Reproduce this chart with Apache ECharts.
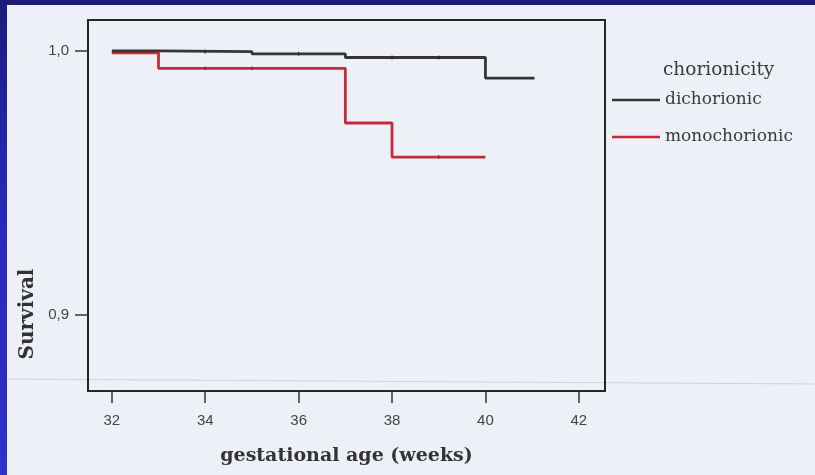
<!DOCTYPE html>
<html>
<head>
<meta charset="utf-8">
<script src="https://cdn.jsdelivr.net/npm/echarts@6/dist/echarts.min.js"></script>
<style>
  html, body { margin: 0; padding: 0; background: #eef0f7; }
  #wrap { position: relative; width: 815px; height: 475px; overflow: hidden; }
  #chart { position: absolute; left: 0; top: 0; width: 815px; height: 475px; }
  #edgeTop { position: absolute; left: 0; top: 0; width: 815px; height: 5px; background: #1b1b74; z-index: 2; }
  #edgeLeft { position: absolute; left: 0; top: 0; width: 7px; height: 475px; z-index: 2;
              background: linear-gradient(to bottom, #1b1b7a 0%, #2626b4 35%, #3030cc 100%); }
</style>
</head>
<body>
<div id="wrap">
  <div id="chart"></div>
  <div id="edgeTop"></div>
  <div id="edgeLeft"></div>
</div>
<script>
// Kaplan-Meier survival by chorionicity (gestational age in weeks)
const seriesNames = ['dichorionic', 'monochorionic'];

// step points: [week, cumulative survival]
const dichorionic = [[32, 1.0], [33, 0.9997], [35, 0.9989], [37, 0.9975], [40, 0.9897], [41.05, 0.9897]];
const monochorionic = [[32, 0.9993], [33, 0.9934], [37, 0.9727], [38, 0.9598], [40, 0.9598]];

// censored observations (small tick marks on the curves)
const dichorionicCensored = [[34, 0.9997], [36, 0.9989], [38, 0.9975], [39, 0.9975]];
const monochorionicCensored = [[34, 0.9934], [35, 0.9934], [39, 0.9598]];

const xTicks = [32, 34, 36, 38, 40, 42];
const yTicks = [0.9, 1.0];
const yTickLabels = ['0,9', '1,0'];

const legendTitle = 'chorionicity';
const xTitle = 'gestational age (weeks)';
const yTitle = 'Survival';

const colors = { dichorionic: '#353535', monochorionic: '#c62a36' };

const chart = echarts.init(document.getElementById('chart'), null, { renderer: 'canvas' });

const censorSeries = (name, data, color) => ({
  name: name,
  type: 'scatter',
  data: data,
  symbol: 'rect',
  symbolSize: [1.2, 4],
  itemStyle: { color: color, opacity: 0.8 },
  silent: true,
  z: 4
});

chart.setOption({
  backgroundColor: '#eef0f7',
  animation: false,
  title: {
    text: legendTitle,
    left: 663,
    top: 61,
    padding: 0,
    textStyle: { fontFamily: 'DejaVu Serif', fontSize: 18.5, fontWeight: 'normal', color: '#3a3a3a' }
  },
  legend: {
    data: seriesNames,
    orient: 'vertical',
    left: 612,
    top: 88,
    padding: 0,
    itemGap: 13,
    itemWidth: 48,
    itemHeight: 2.5,
    icon: 'rect',
    selectedMode: false,
    textStyle: { fontFamily: 'DejaVu Serif', fontSize: 17, color: '#3a3a3a', lineHeight: 20, padding: [4, 0, 0, 0] }
  },
  grid: {
    left: 88, top: 20, width: 517, height: 371,
    show: true, borderColor: '#262626', borderWidth: 2,
    backgroundColor: 'transparent',
    containLabel: false
  },
  xAxis: {
    type: 'value',
    min: 31.49,
    max: 42.56,
    name: xTitle,
    nameLocation: 'middle',
    nameGap: 56,
    nameTextStyle: { fontFamily: 'DejaVu Serif', fontSize: 19, fontWeight: 'bold', color: '#333' },
    axisLine: { show: true, lineStyle: { color: '#262626', width: 2 } },
    axisTick: { show: true, inside: false, length: 12, customValues: xTicks, lineStyle: { color: '#333', width: 1.5 } },
    axisLabel: { customValues: xTicks, margin: 22, fontFamily: 'Liberation Sans', fontSize: 15, color: '#444' },
    splitLine: { show: false }
  },
  yAxis: {
    type: 'value',
    min: 0.8712,
    max: 1.0117,
    axisLine: { show: true, lineStyle: { color: '#262626', width: 2 } },
    axisTick: { show: true, inside: false, length: 13, customValues: yTicks, lineStyle: { color: '#333', width: 1.5 } },
    axisLabel: {
      customValues: yTicks,
      margin: 19,
      fontFamily: 'Liberation Sans', fontSize: 15, color: '#444',
      formatter: (v) => yTickLabels[yTicks.findIndex(t => Math.abs(t - v) < 1e-6)]
    },
    splitLine: { show: false }
  },
  series: [
    {
      name: 'monochorionic',
      type: 'line',
      step: 'end',
      data: monochorionic,
      symbol: 'none',
      lineStyle: { color: colors.monochorionic, width: 2.8 },
      itemStyle: { color: colors.monochorionic },
      z: 2
    },
    {
      name: 'dichorionic',
      type: 'line',
      step: 'end',
      data: dichorionic,
      symbol: 'none',
      lineStyle: { color: colors.dichorionic, width: 2.8 },
      itemStyle: { color: colors.dichorionic },
      z: 3
    },
    censorSeries('dichorionic-censored', dichorionicCensored, '#222'),
    censorSeries('monochorionic-censored', monochorionicCensored, '#8a1f27')
  ],
  graphic: [
    {
      type: 'text',
      rotation: Math.PI / 2,
      x: 28, y: 314,
      style: {
        text: yTitle,
        fontFamily: 'DejaVu Serif', fontSize: 20, fontWeight: 'bold', fill: '#333',
        align: 'center', verticalAlign: 'middle'
      }
    },
    {
      // faint fold crease across the printed page
      type: 'line',
      shape: { x1: 0, y1: 379, x2: 815, y2: 384 },
      style: { stroke: '#cfd1da', lineWidth: 1 },
      z: -1
    }
  ]
});
</script>
</body>
</html>
